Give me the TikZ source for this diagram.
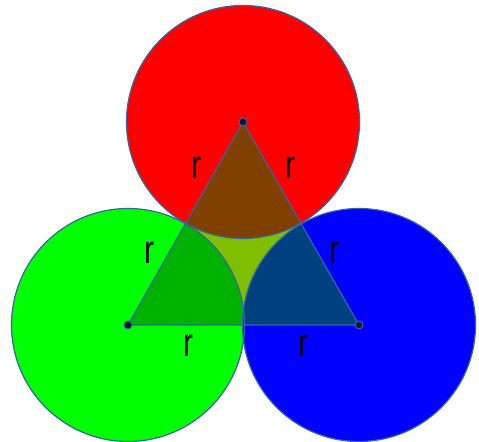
\documentclass[tikz,border=0pt]{standalone}
\usepackage{fontspec}
\setmainfont{Liberation Sans}
\definecolor{edge}{RGB}{52,101,164}
\definecolor{cred}{RGB}{255,0,0}
\definecolor{cgreen}{RGB}{0,255,0}
\definecolor{cblue}{RGB}{0,0,255}
\definecolor{obrown}{RGB}{128,64,0}
\definecolor{ogreen}{RGB}{0,178,0}
\definecolor{oblue}{RGB}{0,66,128}
\definecolor{ocenter}{RGB}{128,190,0}
\definecolor{dotfill}{RGB}{20,20,50}
\begin{document}
\begin{tikzpicture}[x=0.5pt,y=-0.5pt,
  outline/.style={draw=edge,line width=0.6pt},
  lbl/.style={font=\fontsize{20}{20}\selectfont,inner sep=0pt},
  cdot/.style={circle,draw=edge,fill=dotfill,minimum size=4pt,inner sep=0pt,line width=0.5pt}]
\useasboundingbox (0,0) rectangle (479,442);
\coordinate (A) at (243,122);
\coordinate (B) at (128,325);
\coordinate (C) at (359,325);
\def\R{116.5}
% circles
\fill[cred] (A) circle[radius=\R];
\fill[cgreen] (B) circle[radius=\R];
\fill[cblue] (C) circle[radius=\R];
% triangle overlay
\fill[ocenter] (A) -- (B) -- (C) -- cycle;
\begin{scope}
  \clip (A) -- (B) -- (C) -- cycle;
  \fill[obrown] (A) circle[radius=\R];
  \fill[ogreen] (B) circle[radius=\R];
  \fill[oblue] (C) circle[radius=\R];
\end{scope}
% outlines
\draw[outline] (A) circle[radius=\R];
\draw[outline] (B) circle[radius=\R];
\draw[outline] (C) circle[radius=\R];
\draw[outline] (A) -- (B) -- (C) -- cycle;
% centre dots
\node[cdot] (a) at (A) {};
\node[cdot] (b) at (B) {};
\node[cdot] (c) at (C) {};
% labels
\node[lbl] (r1) at (196,168) {\scalebox{0.75}[1]{r}};
\node[lbl] (r2) at (290,168) {\scalebox{0.75}[1]{r}};
\node[lbl] (r3) at (149.5,253) {\scalebox{0.75}[1]{r}};
\node[lbl] (r4) at (334,253) {\scalebox{0.75}[1]{r}};
\node[lbl] (r5) at (188,346) {\scalebox{0.75}[1]{r}};
\node[lbl] (r6) at (303,346) {\scalebox{0.75}[1]{r}};
\end{tikzpicture}
\end{document}
